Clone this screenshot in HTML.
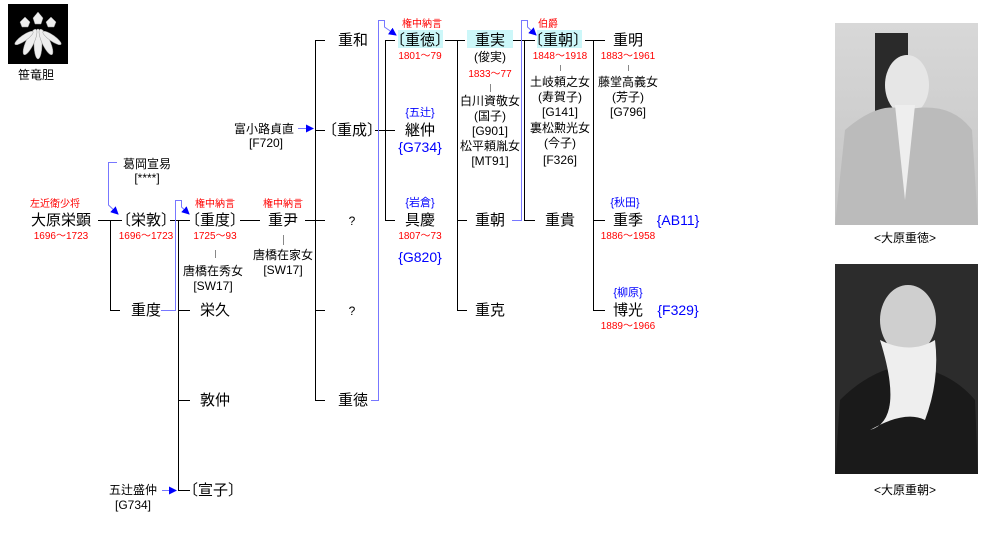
<!DOCTYPE html>
<html><head><meta charset="utf-8"><style>
html,body{margin:0;padding:0;background:#fff;width:989px;height:547px;overflow:hidden}
svg text{font-family:"Liberation Sans","Noto Sans CJK JP",sans-serif;text-anchor:middle}
.n{font-size:15px;fill:#000}
.s{font-size:12px;fill:#000}
.r{font-size:10px;fill:#f00}
.b{font-size:11px;fill:#00f}
.bb{font-size:14px;fill:#00f}
</style></head><body>
<svg width="989" height="547" viewBox="0 0 989 547" xmlns="http://www.w3.org/2000/svg">
<defs>
<marker id="a" markerWidth="8" markerHeight="8" refX="7" refY="4" orient="auto" markerUnits="userSpaceOnUse"><path d="M0,0 L8,4 L0,8 z" fill="#00f"/></marker>
<linearGradient id="p1" x1="0" y1="0" x2="0" y2="1"><stop offset="0" stop-color="#d8d8d8"/><stop offset="1" stop-color="#c4c4c4"/></linearGradient>
</defs>
<rect x="8" y="4" width="60" height="60" fill="#000"/>
<g fill="#eee" stroke="#999" stroke-width="0.5">
<ellipse cx="38" cy="44" rx="4" ry="15"/>
<ellipse cx="30" cy="42" rx="4" ry="14" transform="rotate(25 30 42)"/>
<ellipse cx="46" cy="42" rx="4" ry="14" transform="rotate(-25 46 42)"/>
<ellipse cx="24" cy="38" rx="3" ry="11" transform="rotate(55 24 38)"/>
<ellipse cx="52" cy="38" rx="3" ry="11" transform="rotate(-55 52 38)"/>
<path d="M38,12 l5,6 l-2,6 h-6 l-2,-6z"/>
<path d="M25,17 l5,5 l-2,5 h-6 l-2,-5z"/>
<path d="M51,17 l5,5 l-2,5 h-6 l-2,-5z"/>
</g>
<text class="s" x="36" y="79">笹竜胆</text>

<rect x="398" y="30" width="45" height="18" fill="#ccf7f9"/>
<rect x="467" y="30" width="46" height="18" fill="#ccf7f9"/>
<rect x="537" y="30" width="45" height="18" fill="#ccf7f9"/>

<g stroke="#000" stroke-width="1" fill="none">
<path d="M98,220.5H122 M110.5,220V310.5H120"/>
<path d="M170,220.5H190 M178.5,220V490.5H190 M178,310.5H190 M178,400.5H190"/>
<path d="M240,220.5H260"/>
<path d="M305,220.5H325 M315.5,40V400.5 M315,40.5H325 M315,130.5H325 M315,310.5H325 M315,400.5H325"/>
<path d="M375,130.5H395 M385.5,40V220.5 M385,40.5H395 M385,220.5H395"/>
<path d="M445,40.5H465 M457.5,40V310.5 M457,220.5H467 M457,310.5H467"/>
<path d="M513,40.5H535 M524.5,40V220.5 M524,220.5H535"/>
<path d="M585,40.5H605 M593.5,40V310.5 M593,220.5H605 M593,310.5H605"/>
</g>
<g stroke="#888" stroke-width="1">
<path d="M215.5,250V258 M283.5,235V245 M490.5,84V92 M560.5,65V71 M628.5,65V71"/>
</g>
<g stroke="#77f" stroke-width="1" fill="none">
<path d="M117,162.5H108.5V205 L118,214" marker-end="url(#a)"/>
<path d="M161,310.5H175.5V200.5H181.5V207 L189,214" marker-end="url(#a)"/>
<path d="M298,128.5H313" marker-end="url(#a)"/>
<path d="M371,400.5H378.5V20.5H384.5V27 L396,35" marker-end="url(#a)"/>
<path d="M512,220.5H521.5V20.5H527.5V27 L536,35" marker-end="url(#a)"/>
<path d="M162,490.5H176" marker-end="url(#a)"/>
</g>

<text class="r" x="55" y="207">左近衛少将</text>
<text class="n" x="61" y="225">大原栄顕</text>
<text class="r" x="61" y="239">1696〜1723</text>
<text class="n" x="146" y="315">重度</text>

<text class="s" x="147" y="168">葛岡宣易</text>
<text class="s" x="147" y="182">[****]</text>
<text class="n" x="146" y="225">〔栄敦〕</text>
<text class="r" x="146" y="239">1696〜1723</text>

<text class="r" x="215" y="207">権中納言</text>
<text class="n" x="215" y="225">〔重度〕</text>
<text class="r" x="215" y="239">1725〜93</text>
<text class="s" x="213" y="275">唐橋在秀女</text>
<text class="s" x="213" y="290">[SW17]</text>
<text class="n" x="215" y="315">栄久</text>
<text class="n" x="215" y="405">敦仲</text>
<text class="n" x="213" y="495">〔宣子〕</text>
<text class="s" x="133" y="494">五辻盛仲</text>
<text class="s" x="133" y="509">[G734]</text>

<text class="r" x="283" y="207">権中納言</text>
<text class="n" x="283" y="225">重尹</text>
<text class="s" x="283" y="259">唐橋在家女</text>
<text class="s" x="283" y="274">[SW17]</text>

<text class="s" x="264" y="133">富小路貞直</text>
<text class="s" x="266" y="147">[F720]</text>

<text class="n" x="353" y="45">重和</text>
<text class="n" x="352" y="135">〔重成〕</text>
<text class="s" x="352" y="225">?</text>
<text class="s" x="352" y="315">?</text>
<text class="n" x="353" y="405">重徳</text>

<text class="r" x="422" y="27">権中納言</text>
<text class="n" x="420" y="45">〔重徳〕</text>
<text class="r" x="420" y="59">1801〜79</text>
<text class="b" x="420" y="116">{五辻}</text>
<text class="n" x="420" y="135">継仲</text>
<text class="bb" x="420" y="152">{G734}</text>
<text class="b" x="420" y="206">{岩倉}</text>
<text class="n" x="420" y="225">具慶</text>
<text class="r" x="420" y="239">1807〜73</text>
<text class="bb" x="420" y="262">{G820}</text>

<text class="n" x="490" y="45">重実</text>
<text class="s" x="490" y="61">(俊実)</text>
<text class="r" x="490" y="77">1833〜77</text>
<text class="s" x="490" y="105">白川資敬女</text>
<text class="s" x="490" y="120">(国子)</text>
<text class="s" x="490" y="135">[G901]</text>
<text class="s" x="490" y="150">松平頼胤女</text>
<text class="s" x="490" y="165">[MT91]</text>
<text class="n" x="490" y="225">重朝</text>
<text class="n" x="490" y="315">重克</text>

<text class="r" x="548" y="27">伯爵</text>
<text class="n" x="558" y="45">〔重朝〕</text>
<text class="r" x="560" y="59">1848〜1918</text>
<text class="s" x="560" y="86">土岐頼之女</text>
<text class="s" x="560" y="101">(寿賀子)</text>
<text class="s" x="560" y="116">[G141]</text>
<text class="s" x="560" y="132">裏松勲光女</text>
<text class="s" x="560" y="147">(今子)</text>
<text class="s" x="560" y="164">[F326]</text>
<text class="n" x="560" y="225">重貴</text>

<text class="n" x="628" y="45">重明</text>
<text class="r" x="628" y="59">1883〜1961</text>
<text class="s" x="628" y="86">藤堂高義女</text>
<text class="s" x="628" y="101">(芳子)</text>
<text class="s" x="628" y="116">[G796]</text>
<text class="b" x="625" y="206">{秋田}</text>
<text class="n" x="628" y="225">重季</text>
<text class="bb" x="678" y="225">{AB11}</text>
<text class="r" x="628" y="239">1886〜1958</text>
<text class="b" x="628" y="296">{柳原}</text>
<text class="n" x="628" y="315">博光</text>
<text class="bb" x="678" y="315">{F329}</text>
<text class="r" x="628" y="329">1889〜1966</text>

<rect x="835" y="23" width="143" height="202" fill="url(#p1)"/>
<rect x="875" y="33" width="33" height="85" fill="#2a2a2a"/>
<ellipse cx="907" cy="85" rx="22" ry="30" fill="#e6e6e6"/>
<path d="M835,225 L845,130 Q880,100 905,110 Q950,100 972,130 L978,225z" fill="#bbb"/>
<path d="M895,105 L905,200 L915,105z" fill="#eee"/>
<text class="s" x="905" y="242">&lt;大原重徳&gt;</text>

<rect x="835" y="264" width="143" height="210" fill="#2c2c2c"/>
<path d="M835,474 L840,400 Q870,370 905,365 Q950,370 975,400 L978,474z" fill="#1a1a1a"/>
<ellipse cx="908" cy="320" rx="28" ry="35" fill="#cfcfcf"/>
<path d="M880,340 Q905,420 870,430 Q905,410 925,420 Q940,380 935,340 Q910,355 880,340z" fill="#eee"/>
<text class="s" x="905" y="494">&lt;大原重朝&gt;</text>
</svg>
</body></html>
